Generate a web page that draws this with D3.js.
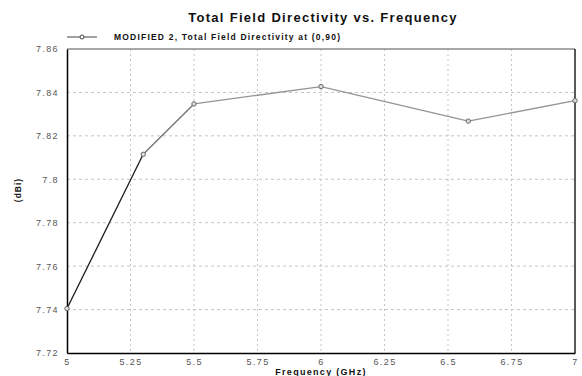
<!DOCTYPE html>
<html>
<head>
<meta charset="utf-8">
<script src="https://cdn.jsdelivr.net/npm/d3@7"></script>
<style>
  html, body { margin: 0; padding: 0; background: #fff; }
  svg { display: block; font-family: "Liberation Sans", Arial, sans-serif; }
</style>
</head>
<body>
<div id="chart"></div>
<script>
// data
const freqs = [5, 5.3, 5.5, 6.0, 6.58, 7.0];
const directivity = [7.7405, 7.8115, 7.8347, 7.8427, 7.8268, 7.8362];
const xTicks = [5, 5.25, 5.5, 5.75, 6, 6.25, 6.5, 6.75, 7];
const yTicks = [7.72, 7.74, 7.76, 7.78, 7.8, 7.82, 7.84, 7.86];
const title = 'Total Field Directivity vs. Frequency';
const legendLabel = 'MODIFIED 2, Total Field Directivity at (0,90)';
const xLabel = 'Frequency (GHz)';
const yLabel = '(dBi)';

const width = 582, height = 376;
const margin = {top: 49, right: 7, bottom: 23, left: 67};

const svg = d3.select('#chart')
    .append('svg')
    .attr('width', width)
    .attr('height', height);

const x = d3.scaleLinear().domain([5, 7]).range([margin.left, width - margin.right]);
const y = d3.scaleLinear().domain([7.72, 7.86]).range([height - margin.bottom, margin.top]);

// сетка
svg.append('g')
    .selectAll('line')
    .data(xTicks.slice(1, -1))
    .join('line')
    .attr('x1', d => x(d)).attr('x2', d => x(d))
    .attr('y1', y(7.86)).attr('y2', y(7.72))
    .attr('stroke', '#c4c4c4')
    .attr('stroke-dasharray', '2,3');

svg.append('g')
    .selectAll('line')
    .data(yTicks.slice(1, -1))
    .join('line')
    .attr('x1', x(5)).attr('x2', x(7))
    .attr('y1', d => y(d)).attr('y2', d => y(d))
    .attr('stroke', '#c4c4c4')
    .attr('stroke-dasharray', '3,3');

// рамка
svg.append('line').attr('x1', x(5)).attr('x2', x(7)).attr('y1', y(7.86)).attr('y2', y(7.86))
    .attr('stroke', '#8a8a8a').attr('stroke-width', 1.5);
svg.append('line').attr('x1', x(7)).attr('x2', x(7)).attr('y1', y(7.86)).attr('y2', y(7.72))
    .attr('stroke', '#222').attr('stroke-width', 1.5);

// axes
const xAxis = svg.append('g')
    .attr('transform', `translate(0,${y(7.72)})`)
    .call(d3.axisBottom(x).tickValues(xTicks).tickSize(0).tickPadding(6)
        .tickFormat(d => String(d)));
xAxis.select('.domain').attr('stroke', '#000').attr('stroke-width', 1.5);
xAxis.selectAll('text').attr('fill', '#555').style('font-size', '9px')
    .style('letter-spacing', '1.4px');

const yAxis = svg.append('g')
    .attr('transform', `translate(${x(5)},0)`)
    .call(d3.axisLeft(y).tickValues(yTicks).tickSize(0).tickPadding(8)
        .tickFormat(d => String(+d.toFixed(2))));
yAxis.select('.domain').attr('stroke', '#000').attr('stroke-width', 1.5);
yAxis.selectAll('text').attr('fill', '#555').style('font-size', '9px')
    .style('letter-spacing', '1.4px');

// линия по сегментам: первый тёмный, дальше серый
const points = freqs.map((f, i) => [f, directivity[i]]);
const segColors = ['#1a1a1a', '#707070', '#959595', '#959595', '#959595'];
svg.append('g')
    .selectAll('line')
    .data(points.slice(1).map((p, i) => [points[i], p, segColors[i]]))
    .join('line')
    .attr('x1', d => x(d[0][0])).attr('y1', d => y(d[0][1]))
    .attr('x2', d => x(d[1][0])).attr('y2', d => y(d[1][1]))
    .attr('stroke', d => d[2])
    .attr('stroke-width', 1.3);

svg.append('g')
    .selectAll('circle')
    .data(points)
    .join('circle')
    .attr('cx', d => x(d[0]))
    .attr('cy', d => y(d[1]))
    .attr('r', 2.2)
    .attr('fill', '#ddd')
    .attr('stroke', '#666')
    .attr('stroke-width', 1);

// title and legend
svg.append('text')
    .attr('x', 323).attr('y', 22)
    .attr('text-anchor', 'middle')
    .style('font-size', '13px').style('font-weight', 'bold')
    .style('letter-spacing', '1.3px')
    .attr('fill', '#111')
    .text(title);

svg.append('line').attr('x1', 67).attr('x2', 97).attr('y1', 37).attr('y2', 37)
    .attr('stroke', '#444').attr('stroke-width', 1);
svg.append('circle').attr('cx', 82).attr('cy', 37).attr('r', 2)
    .attr('fill', '#fff').attr('stroke', '#444');
svg.append('text')
    .attr('x', 114).attr('y', 40)
    .style('font-size', '8.5px').style('font-weight', 'bold')
    .style('letter-spacing', '1.2px')
    .attr('fill', '#111')
    .text(legendLabel);

svg.append('text')
    .attr('x', x(6)).attr('y', 375)
    .attr('text-anchor', 'middle')
    .style('font-size', '9px').style('font-weight', 'bold')
    .style('letter-spacing', '1.3px')
    .attr('fill', '#111')
    .text(xLabel);

svg.append('text')
    .attr('transform', 'translate(21,190) rotate(-90)')
    .attr('text-anchor', 'middle')
    .style('font-size', '8.5px').style('font-weight', 'bold')
    .style('letter-spacing', '1px')
    .attr('fill', '#111')
    .text(yLabel);
</script>
</body>
</html>
